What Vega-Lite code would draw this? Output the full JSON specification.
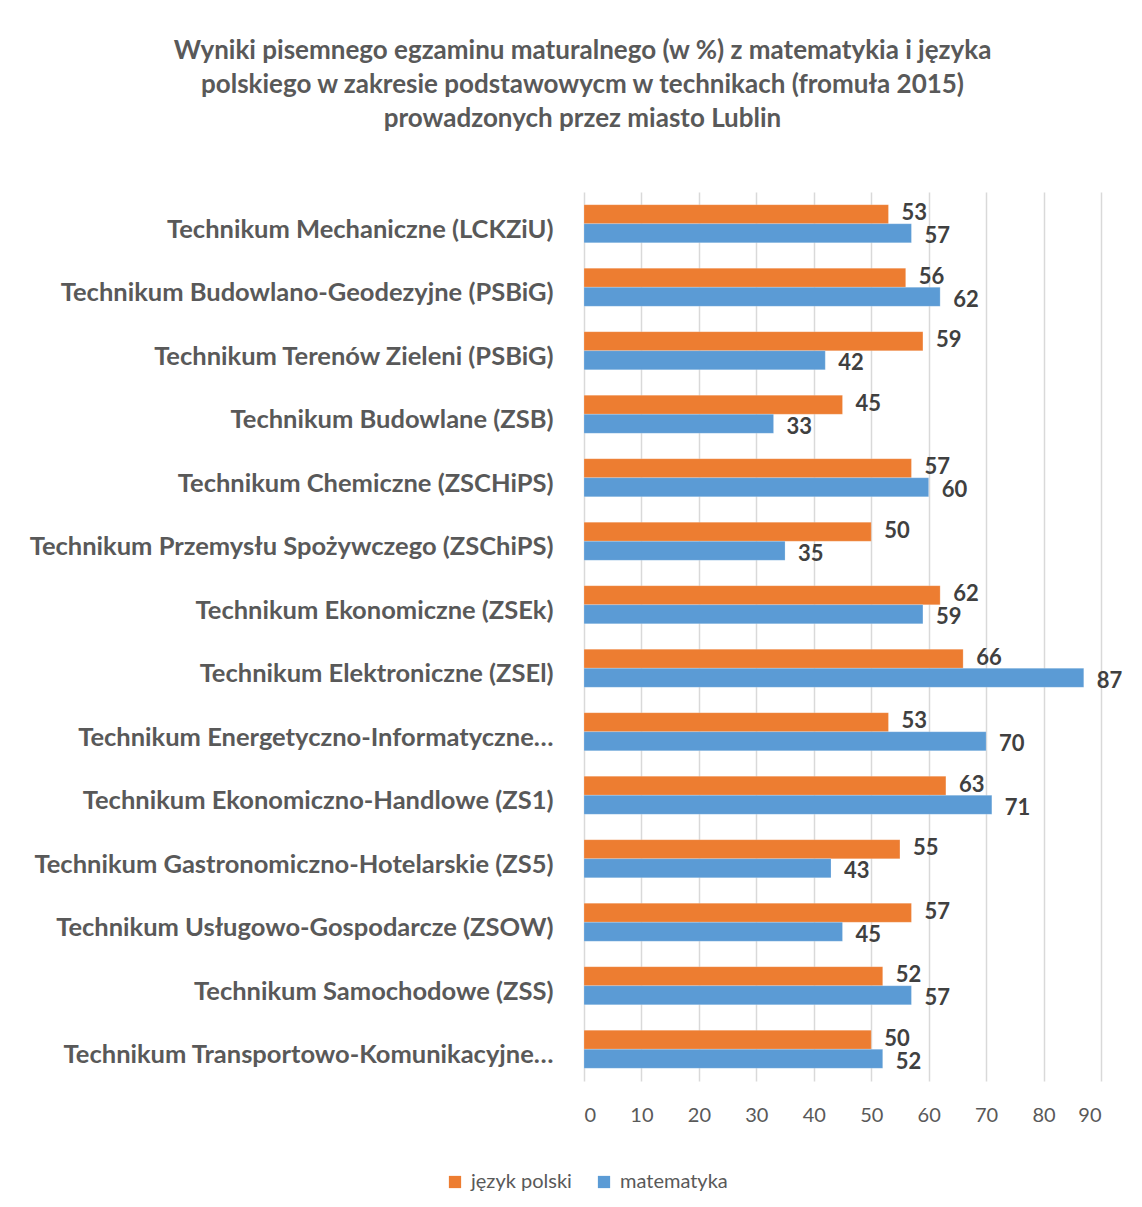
{
  "$schema": "https://vega.github.io/schema/vega-lite/v6.json",
  "width": 517,
  "height": 889,
  "autosize": {"type": "none"},
  "padding": {"left": 584, "top": 192, "right": 41, "bottom": 126},
  "background": "white",
  "title": {
    "text": ["Wyniki pisemnego egzaminu maturalnego (w %) z matematykia i języka", "polskiego w zakresie podstawowycm w technikach (fromuła 2015)", "prowadzonych  przez miasto Lublin"],
    "anchor": "middle",
    "frame": "group",
    "dx": -260,
    "offset": 60,
    "font": "Lato",
    "fontSize": 26,
    "fontWeight": "bold",
    "lineHeight": 34,
    "color": "#595959"
  },
  "data": {
    "values": [
      {"szkola": "Technikum Mechaniczne (LCKZiU)", "seria": "język polski", "wynik": 53},
      {"szkola": "Technikum Mechaniczne (LCKZiU)", "seria": "matematyka", "wynik": 57},
      {"szkola": "Technikum Budowlano-Geodezyjne (PSBiG)", "seria": "język polski", "wynik": 56},
      {"szkola": "Technikum Budowlano-Geodezyjne (PSBiG)", "seria": "matematyka", "wynik": 62},
      {"szkola": "Technikum Terenów Zieleni (PSBiG)", "seria": "język polski", "wynik": 59},
      {"szkola": "Technikum Terenów Zieleni (PSBiG)", "seria": "matematyka", "wynik": 42},
      {"szkola": "Technikum Budowlane (ZSB)", "seria": "język polski", "wynik": 45},
      {"szkola": "Technikum Budowlane (ZSB)", "seria": "matematyka", "wynik": 33},
      {"szkola": "Technikum Chemiczne (ZSCHiPS)", "seria": "język polski", "wynik": 57},
      {"szkola": "Technikum Chemiczne (ZSCHiPS)", "seria": "matematyka", "wynik": 60},
      {"szkola": "Technikum Przemysłu Spożywczego (ZSChiPS)", "seria": "język polski", "wynik": 50},
      {"szkola": "Technikum Przemysłu Spożywczego (ZSChiPS)", "seria": "matematyka", "wynik": 35},
      {"szkola": "Technikum Ekonomiczne (ZSEk)", "seria": "język polski", "wynik": 62},
      {"szkola": "Technikum Ekonomiczne (ZSEk)", "seria": "matematyka", "wynik": 59},
      {"szkola": "Technikum Elektroniczne (ZSEl)", "seria": "język polski", "wynik": 66},
      {"szkola": "Technikum Elektroniczne (ZSEl)", "seria": "matematyka", "wynik": 87},
      {"szkola": "Technikum Energetyczno-Informatyczne…", "seria": "język polski", "wynik": 53},
      {"szkola": "Technikum Energetyczno-Informatyczne…", "seria": "matematyka", "wynik": 70},
      {"szkola": "Technikum Ekonomiczno-Handlowe (ZS1)", "seria": "język polski", "wynik": 63},
      {"szkola": "Technikum Ekonomiczno-Handlowe (ZS1)", "seria": "matematyka", "wynik": 71},
      {"szkola": "Technikum Gastronomiczno-Hotelarskie (ZS5)", "seria": "język polski", "wynik": 55},
      {"szkola": "Technikum Gastronomiczno-Hotelarskie (ZS5)", "seria": "matematyka", "wynik": 43},
      {"szkola": "Technikum Usługowo-Gospodarcze (ZSOW)", "seria": "język polski", "wynik": 57},
      {"szkola": "Technikum Usługowo-Gospodarcze (ZSOW)", "seria": "matematyka", "wynik": 45},
      {"szkola": "Technikum Samochodowe (ZSS)", "seria": "język polski", "wynik": 52},
      {"szkola": "Technikum Samochodowe (ZSS)", "seria": "matematyka", "wynik": 57},
      {"szkola": "Technikum Transportowo-Komunikacyjne…", "seria": "język polski", "wynik": 50},
      {"szkola": "Technikum Transportowo-Komunikacyjne…", "seria": "matematyka", "wynik": 52}
    ]
  },
  "encoding": {
    "y": {
      "field": "szkola",
      "type": "nominal",
      "sort": null,
      "scale": {"paddingInner": 0.4, "paddingOuter": 0.2},
      "axis": {
        "title": null,
        "domain": false,
        "ticks": false,
        "labelFont": "Lato",
        "labelFontSize": 25.5,
        "labelFontWeight": "bold",
        "labelColor": "#595959",
        "labelPadding": 31,
        "labelOffset": 6,
        "labelLimit": 580
      }
    },
    "yOffset": {"field": "seria", "type": "nominal", "sort": ["język polski", "matematyka"]},
    "x": {
      "field": "wynik",
      "type": "quantitative",
      "scale": {"domain": [0, 90]},
      "axis": {
        "title": null,
        "values": [0, 10, 20, 30, 40, 50, 60, 70, 80, 90],
        "domain": false,
        "ticks": false,
        "grid": true,
        "gridColor": "#D9D9D9",
        "gridWidth": 1.5,
        "labelFont": "Lato",
        "labelFontSize": 20,
        "labelColor": "#595959",
        "labelPadding": 24,
        "labelDx": -5
      }
    }
  },
  "layer": [
    {
      "mark": {"type": "bar", "stroke": "white", "strokeOpacity": 0.4, "strokeWidth": 0.5},
      "encoding": {
        "color": {
          "field": "seria",
          "type": "nominal",
          "scale": {"domain": ["język polski", "matematyka"], "range": ["#ED7D31", "#5B9BD5"]},
          "legend": {
            "title": null,
            "orient": "none",
            "direction": "horizontal",
            "legendX": -139,
            "legendY": 980,
            "symbolType": "square",
            "symbolSize": 150,
            "symbolStrokeWidth": 0,
            "labelFont": "Lato",
            "labelFontSize": 20,
            "labelColor": "#595959",
            "columnPadding": 22,
            "labelOffset": 6
          }
        }
      }
    },
    {
      "transform": [{"filter": "datum.seria === 'język polski'"}],
      "mark": {"type": "text", "align": "left", "baseline": "middle", "dx": 13, "dy": -1, "font": "Lato", "fontSize": 22, "fontWeight": "bold", "color": "#404040"},
      "encoding": {
        "text": {"field": "wynik", "type": "quantitative"}
      }
    },
    {
      "transform": [{"filter": "datum.seria === 'matematyka'"}],
      "mark": {"type": "text", "align": "left", "baseline": "middle", "dx": 13, "dy": 3, "font": "Lato", "fontSize": 22, "fontWeight": "bold", "color": "#404040"},
      "encoding": {
        "text": {"field": "wynik", "type": "quantitative"}
      }
    }
  ],
  "config": {
    "view": {"stroke": null}
  }
}
